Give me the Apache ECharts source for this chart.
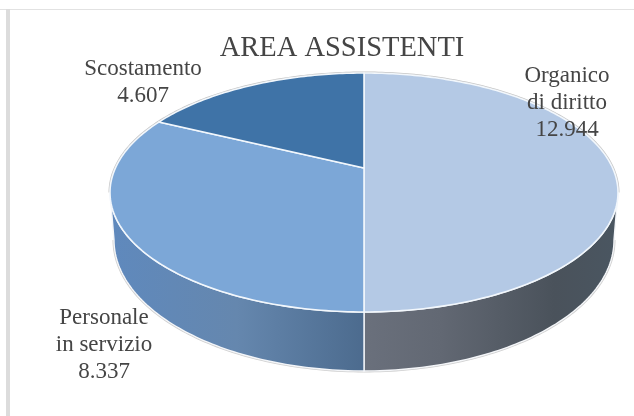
<!DOCTYPE html>
<html>
<head>
<meta charset="utf-8">
<style>html,body{margin:0;padding:0;background:#fff}#chart{width:634px;height:416px}</style>
<script src="https://cdn.jsdelivr.net/npm/echarts@6/dist/echarts.min.js"></script>
</head>
<body>
<div id="chart"></div>
<script>
// Staffing figures for the assistants area
const chartTitle = 'AREA ASSISTENTI';
const categories = ['Organico\ndi diritto', 'Personale\nin servizio', 'Scostamento'];
const values = [12944, 8337, 4607];

// Styling per slice; wall gradient stops run from right to left
const topColors = ['#b4c9e5', '#7ca7d7', '#3f73a7'];
const sideStops = [
  [[0, '#4a5661'], [0.25, '#4a525b'], [0.7, '#626873'], [1, '#6a707c']],
  [[0, '#4c6b8e'], [0.5, '#6587ae'], [1, '#5f89bd']],
  [[0, '#2f567d'], [1, '#2f567d']]
];
const labelAnchors = [[567, 103], [104, 344.5], [143, 82.5]];

// Perspective disc: top face and bottom face share the same tilt
const tilt = 0.205;
const topFace = { cx: 364, y0: 168, by: -80.03, ax: 248.6 };
const bottomFace = { cx: 364, y0: 213.1, by: -81.8, ax: 244.7 };
const visibleFrom = 101.8, visibleTo = 258.2;

function project(face, deg) {
  const r = deg * Math.PI / 180;
  const u = Math.sin(r), v = Math.cos(r), w = 1 + tilt * v;
  return [face.cx + face.ax * u / w, (face.y0 + face.by * v) / w];
}
function arc(face, from, to) {
  const pts = [], n = Math.max(2, Math.ceil(Math.abs(to - from)));
  for (let i = 0; i <= n; i++) pts.push(project(face, from + (to - from) * i / n));
  return pts;
}
const total = values.reduce((a, b) => a + b, 0);
const toAngle = v => echarts.number.linearMap(v, [0, total], [0, 360]);
const formatValue = v => String(v).replace(/\B(?=(\d{3})+$)/g, '.');

function renderSlice(params, api) {
  const i = params.dataIndex;
  const before = values.slice(0, i).reduce((a, b) => a + b, 0);
  const start = toAngle(before), end = toAngle(before + api.value(0));
  const children = [];

  // Thin grey rim around the back of the disc
  const backArcs = [];
  if (start < visibleFrom) backArcs.push(arc(topFace, start, Math.min(end, visibleFrom)));
  if (end > visibleTo) backArcs.push(arc(topFace, Math.max(start, visibleTo), end));
  backArcs.forEach(points => children.push({
    type: 'polyline', z2: 0, shape: { points },
    style: { stroke: '#c6c6c6', lineWidth: 3, fill: null }
  }));

  // Front wall, only where it faces the viewer
  const a = Math.max(start, visibleFrom), b = Math.min(end, visibleTo);
  if (b > a) {
    const lower = arc(bottomFace, a, b);
    const wall = arc(topFace, a, b).concat(lower.slice().reverse());
    const xs = wall.map(p => p[0]);
    children.push({
      type: 'polyline', z2: 1, shape: { points: lower },
      style: { stroke: '#cfcfcf', lineWidth: 3, fill: null }
    });
    children.push({
      type: 'polygon', z2: 2, shape: { points: wall },
      style: {
        fill: new echarts.graphic.LinearGradient(
          Math.max.apply(null, xs), 0, Math.min.apply(null, xs), 0,
          sideStops[i].map(s => ({ offset: s[0], color: s[1] })), true),
        stroke: '#f4f6f9', lineWidth: 1.4
      }
    });
  }

  // Top face
  children.push({
    type: 'polygon', z2: 3,
    shape: { points: [[topFace.cx, topFace.y0]].concat(arc(topFace, start, end)) },
    style: { fill: topColors[i], stroke: '#f2f7fc', lineWidth: 1.6, lineJoin: 'round' }
  });

  // Category name and value
  children.push({
    type: 'text', z2: 4,
    x: labelAnchors[i][0], y: labelAnchors[i][1],
    style: {
      text: categories[i] + '\n' + formatValue(api.value(0)),
      fill: '#454545', font: '23px "Liberation Serif"',
      align: 'center', verticalAlign: 'middle', lineHeight: 27
    }
  });
  return { type: 'group', children };
}

const chart = echarts.init(document.getElementById('chart'), null, { renderer: 'canvas' });
chart.setOption({
  animation: false,
  backgroundColor: '#fff',
  title: {
    text: chartTitle, left: 337, top: 44, textAlign: 'center', textVerticalAlign: 'middle',
    textStyle: { color: '#454545', fontFamily: 'Liberation Serif', fontSize: 28.5, fontWeight: 'normal' }
  },
  graphic: [
    { type: 'rect', z: 0, shape: { x: 0, y: 9, width: 634, height: 1 }, style: { fill: '#e2e2e2' } },
    { type: 'rect', z: 0, shape: { x: 6, y: 9, width: 4, height: 407 }, style: { fill: '#dcdcdc' } }
  ],
  series: [{
    type: 'custom',
    coordinateSystem: 'none',
    silent: true,
    data: values.map(v => [v]),
    renderItem: renderSlice
  }]
});
</script>
</body>
</html>
